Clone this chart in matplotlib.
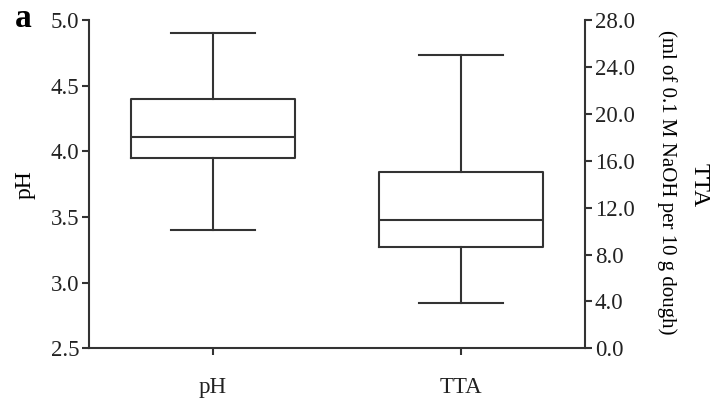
import matplotlib.pyplot as plt

plt.rcParams["font.family"] = ["Liberation Serif", "DejaVu Serif"]

# five-number summaries
categories = ["pH", "TTA"]
ph_stats = {"whislo": 3.40, "q1": 3.95, "med": 4.11, "q3": 4.40, "whishi": 4.90}
tta_stats = {"whislo": 3.9, "q1": 8.6, "med": 10.95, "q3": 15.0, "whishi": 25.0}

left_ticks = [2.5, 3.0, 3.5, 4.0, 4.5, 5.0]
right_ticks = [0, 4, 8, 12, 16, 20, 24, 28]

col = "#333333"
lw = 1.5

fig = plt.figure(figsize=(7.16, 4.08), dpi=100)
ax = fig.add_axes([0.1243, 0.1463, 0.6927, 0.8047])
ax2 = ax.twinx()

box_style = dict(
    widths=0.665, capwidths=0.34, showfliers=False, patch_artist=False,
    boxprops=dict(color=col, linewidth=lw),
    whiskerprops=dict(color=col, linewidth=lw),
    capprops=dict(color=col, linewidth=lw),
    medianprops=dict(color=col, linewidth=lw),
)
ax.bxp([dict(ph_stats, label=categories[0])], positions=[1], **box_style)
ax2.bxp([dict(tta_stats, label=categories[1])], positions=[2], **box_style)

ax.set_xlim(0.5, 2.5)
ax.set_ylim(2.5, 5.0)
ax2.set_ylim(0, 28)
ax.set_yticks(left_ticks)
ax.set_yticklabels([f"{v:.1f}" for v in left_ticks])
ax2.set_yticks(right_ticks)
ax2.set_yticklabels([f"{v:.1f}" for v in right_ticks])
ax.set_xticks([1, 2])
ax.set_xticklabels(categories)

for a in (ax, ax2):
    a.spines["top"].set_visible(False)
    for s in a.spines.values():
        s.set_color(col)
        s.set_linewidth(lw)
    a.tick_params(colors=col, labelcolor="#222222", width=lw, length=5,
                  labelsize=16.5, pad=2)
ax.spines["right"].set_visible(False)
ax2.spines["left"].set_visible(False)
ax2.spines["bottom"].set_visible(False)
ax.tick_params(axis="x", pad=16)

ax.set_ylabel("pH", fontsize=17, labelpad=11)
fig.text(0.977, 0.547, "TTA", rotation=-90, fontsize=17, ha="center", va="center")
fig.text(0.931, 0.554, "(ml of 0.1 M NaOH per 10 g dough)", rotation=-90,
         fontsize=15, ha="center", va="center")
fig.text(0.032, 0.955, "a", fontsize=24, fontweight="bold", ha="center", va="center")

fig.savefig("out.png", dpi=100)
